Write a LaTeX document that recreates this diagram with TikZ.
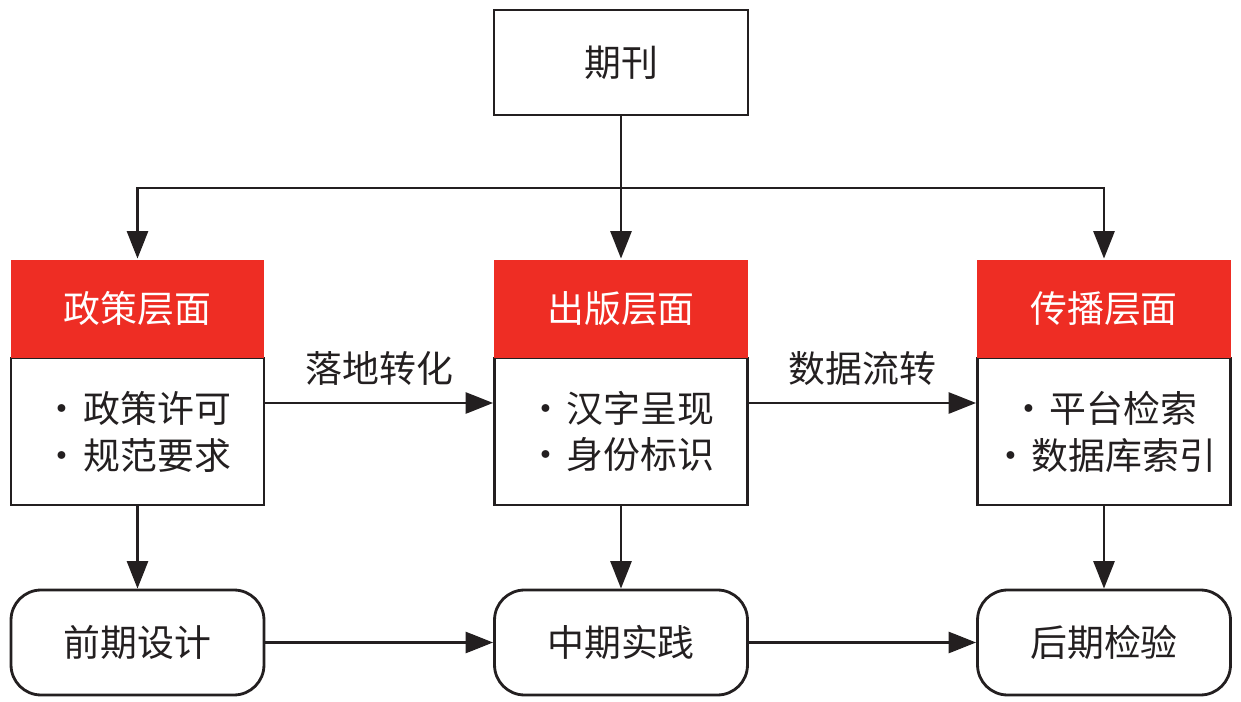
\documentclass[tikz,border=0pt]{standalone}
\usepackage{fontspec}
\setmainfont{Noto Sans CJK SC}
\usetikzlibrary{arrows.meta}
\definecolor{hongse}{HTML}{EE2D24}
\definecolor{heise}{HTML}{231F20}
\newcommand{\xiaodian}{·\kern0.07em}

\begin{document}
\begin{tikzpicture}[x=0.02cm,y=-0.02cm,
		line width=1.6pt,draw=heise,
		kuang/.style={draw=heise,line width=1.6pt,minimum width=5.06cm,align=center,text=heise,font=\fontsize{21}{26.7}\selectfont},
		biaoti/.style={fill=hongse,minimum width=5.08cm,minimum height=1.96cm,text=white,font=\fontsize{21}{26.7}\selectfont},
		jieduan/.style={kuang,rounded corners=0.6cm,minimum height=2.1cm},
		jiantou/.style={-{Triangle[length=0.55cm,width=0.42cm]},heise}]
	\useasboundingbox (0,0) rectangle (1241,702);
	% top
	\node[kuang,minimum width=5.08cm,minimum height=2.1cm] (qk) at (621,62.5) {期刊};
	% three levels: body then red heading
	\node[kuang,minimum height=2.94cm] (zc) at (137.5,431.5) {\xiaodian 政策许可\\\xiaodian 规范要求};
	\node[kuang,minimum height=2.94cm] (cb) at (621,431.5) {\xiaodian 汉字呈现\\\xiaodian 身份标识};
	\node[kuang,minimum height=2.94cm] (cp) at (1104,431.5) {\xiaodian 平台检索\\\xiaodian 数据库索引};
	\node[biaoti] (zch) at (137.5,309) {政策层面};
	\node[biaoti] (cbh) at (621,309) {出版层面};
	\node[biaoti] (cph) at (1104,309) {传播层面};
	% stages
	\node[jieduan] (qq) at (137.5,642.5) {前期设计};
	\node[jieduan] (zq) at (621,642.5) {中期实践};
	\node[jieduan] (hq) at (1104,642.5) {后期检验};
	% from the top
	\coordinate (fork) at (621,188);
	\draw (qk.south) -- (fork);
	\draw[jiantou] (fork) -| (zch.north);
	\draw[jiantou] (fork) -- (cbh.north);
	\draw[jiantou] (fork) -| (cph.north);
	% across
	\draw[jiantou] ([yshift=0.57cm]zc.east) -- node[above=0.2cm,text=heise,font=\fontsize{21}{26.7}\selectfont] {落地转化} ([yshift=0.57cm]cb.west);
	\draw[jiantou] ([yshift=0.57cm]cb.east) -- node[above=0.2cm,text=heise,font=\fontsize{21}{26.7}\selectfont] {数据流转} ([yshift=0.57cm]cp.west);
	\draw[jiantou] (zc.south) -- (qq.north);
	\draw[jiantou] (cb.south) -- (zq.north);
	\draw[jiantou] (cp.south) -- (hq.north);
	\draw[jiantou] (qq.east) -- (zq.west);
	\draw[jiantou] (zq.east) -- (hq.west);
\end{tikzpicture}
\end{document}
